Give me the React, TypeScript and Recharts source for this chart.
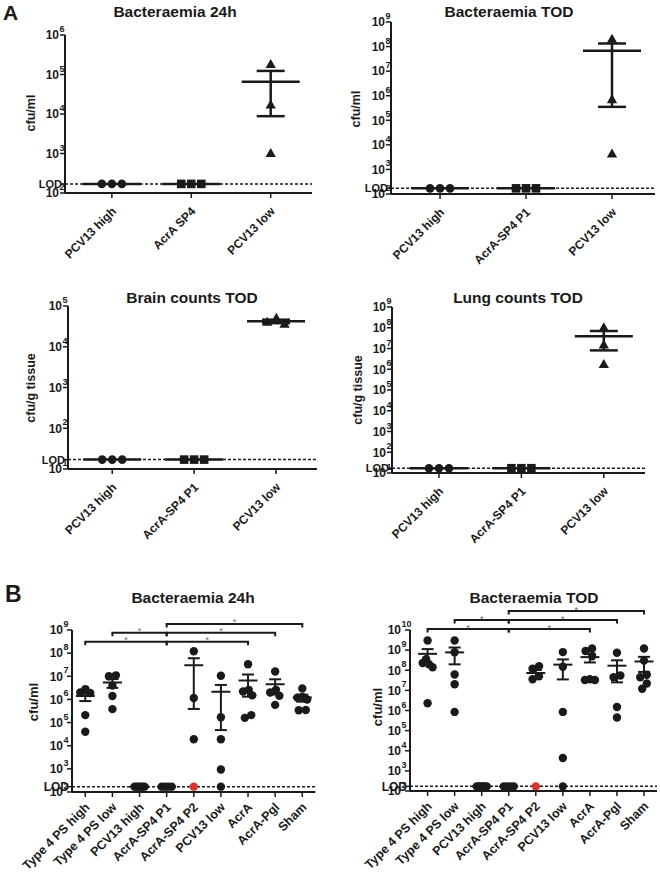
import React from 'react';
import { ComposedChart, Scatter, XAxis, YAxis, ReferenceLine, ErrorBar } from 'recharts';

// ---------- data ----------
const LOD_BLOOD = 170;
const LOD_TISSUE = 17;
const L = LOD_BLOOD;
const T = LOD_TISSUE;

const a1Title = 'Bacteraemia 24h';
const a1Groups = ['PCV13 high', 'AcrA SP4', 'PCV13 low'];
const a1Values = [[L, L, L], [L, L, L], [1.8e5, 1.7e4, 1.0e3]];
const a1Ticks = [1e2, 1e3, 1e4, 1e5, 1e6];

const a2Title = 'Bacteraemia TOD';
const a2Groups = ['PCV13 high', 'AcrA-SP4 P1', 'PCV13 low'];
const a2Values = [[L, L, L], [L, L, L], [2.0e8, 7.0e5, 4.3e3]];
const a2Ticks = [1e2, 1e3, 1e4, 1e5, 1e6, 1e7, 1e8, 1e9];

const a3Title = 'Brain counts TOD';
const a3Groups = ['PCV13 high', 'AcrA-SP4 P1', 'PCV13 low'];
const a3Values = [[T, T, T], [T, T, T], [5.0e4, 3.6e4, 4.0e4]];
const a3Ticks = [1e1, 1e2, 1e3, 1e4, 1e5];

const a4Title = 'Lung counts TOD';
const a4Groups = ['PCV13 high', 'AcrA-SP4 P1', 'PCV13 low'];
const a4Values = [[T, T, T], [T, T, T], [1.0e8, 1.5e7, 1.7e6]];
const a4Ticks = [1e1, 1e2, 1e3, 1e4, 1e5, 1e6, 1e7, 1e8, 1e9];

const bGroups = ['Type 4 PS high', 'Type 4 PS low', 'PCV13 high', 'AcrA-SP4 P1', 'AcrA-SP4 P2', 'PCV13 low', 'AcrA', 'AcrA-Pgl', 'Sham'];

const b1Title = 'Bacteraemia 24h';
const b1Values = [
  [2.8e6, 2.0e6, 1.9e6, 2.1e5, 4.0e4],
  [1.1e7, 1.0e7, 4.0e6, 1.4e6, 3.8e5],
  [L, L, L, L, L, L],
  [L, L, L, L],
  [1.2e8, 1.15e6, 1.9e4, L],
  [1.05e7, 1.7e5, 1.9e4, 9.4e2, L],
  [3.3e7, 2.6e6, 2.2e6, 1.5e6, 2.1e5, 1.6e5],
  [1.6e7, 2.6e6, 2.0e6, 1.45e6, 5.8e5],
  [3.0e6, 1.3e6, 1.2e6, 1.0e6, 3.5e5, 3.4e5],
];
const b1Ticks = [1e2, 1e3, 1e4, 1e5, 1e6, 1e7, 1e8, 1e9];
const b1Highlighted = [{ group: 4, index: 3 }];

const b2Title = 'Bacteraemia TOD';
const b2Values = [
  [3.0e9, 3.5e8, 2.3e8, 2.0e8, 1.4e8, 2.3e6],
  [3.0e9, 7.8e8, 6.2e7, 2.0e7, 8.5e5],
  [L, L, L, L, L, L],
  [L, L, L, L],
  [1.6e8, 1.2e8, 5.0e7, 3.6e7, L],
  [8.0e8, 1.5e8, 8.5e5, 4.4e3, L],
  [1.2e9, 9.0e8, 5.0e8, 3.6e7, 3.3e7, 3.3e7],
  [7.4e8, 5.5e7, 4.5e7, 1.5e6, 4.5e5],
  [1.2e9, 3.0e8, 6.0e7, 4.5e7, 2.2e7, 1.2e7],
];
const b2Ticks = [1e2, 1e3, 1e4, 1e5, 1e6, 1e7, 1e8, 1e9, 1e10];
const b2Highlighted = [{ group: 4, index: 4 }];

const bComparisons = [
  { from: 0, to: 3, level: 0, label: '*' },
  { from: 3, to: 6, level: 0, label: '*' },
  { from: 1, to: 3, level: 1, label: '*' },
  { from: 3, to: 7, level: 1, label: '*' },
  { from: 3, to: 8, level: 2, label: '*' },
];

// ---------- styles / layout ----------
const FONT = '"Liberation Sans", Arial, Helvetica, sans-serif';
const INK = '#1a1a1a';
const RED = '#d8342c';

const styleA = {
  r: 4.3, D: 10, maxHalf: 10, meanHalf: 29, capHalf: 14, lineW: 2.5, axisW: 2,
  tickFont: 12, supFont: 9, xFont: 12, labelGap: 6, lodFont: 11, xDx: 5, xDy: 14, yAxisWidth: 60,
};
const styleB = {
  r: 4.2, D: 7, maxHalf: 5, meanHalf: 9.5, capHalf: 6, lineW: 2, axisW: 2,
  tickFont: 12, supFont: 9, xFont: 12.5, labelGap: 9, lodFont: 12, xDx: 5, xDy: 11, yAxisWidth: 75,
};

const panels = [
  { key: 'a1', title: a1Title, groups: a1Groups, values: a1Values, ticks: a1Ticks, lod: LOD_BLOOD,
    markers: ['circle', 'square', 'triangle'], highlighted: [], comparisons: [],
    x0: 65, x1: 312, yTop: 35, yBot: 193, xMin: -0.59, xMax: 2.52, yMin: 1e2, yMax: 1e6,
    titleX: 175, titleY: 16.5, yLabel: 'cfu/ml', yLabelX: 30, yLabelY: 113, yLabelFont: 12.5, style: styleA },
  { key: 'a2', title: a2Title, groups: a2Groups, values: a2Values, ticks: a2Ticks, lod: LOD_BLOOD,
    markers: ['circle', 'square', 'triangle'], highlighted: [], comparisons: [],
    x0: 391, x1: 655, yTop: 22, yBot: 194, xMin: -0.57, xMax: 2.5, yMin: 1e2, yMax: 1e9,
    titleX: 509, titleY: 16.5, yLabel: 'cfu/ml', yLabelX: 355, yLabelY: 109, yLabelFont: 12.5, style: styleA },
  { key: 'a3', title: a3Title, groups: a3Groups, values: a3Values, ticks: a3Ticks, lod: LOD_TISSUE,
    markers: ['circle', 'square', 'triangle'], highlighted: [], comparisons: [],
    x0: 68, x1: 317, yTop: 306, yBot: 469, xMin: -0.54, xMax: 2.5, yMin: 1e1, yMax: 1e5,
    titleX: 192, titleY: 303, yLabel: 'cfu/g tissue', yLabelX: 30, yLabelY: 388, yLabelFont: 12.5, style: styleA },
  { key: 'a4', title: a4Title, groups: a4Groups, values: a4Values, ticks: a4Ticks, lod: LOD_TISSUE,
    markers: ['circle', 'square', 'triangle'], highlighted: [], comparisons: [],
    x0: 392, x1: 645, yTop: 307, yBot: 473, xMin: -0.57, xMax: 2.5, yMin: 1e1, yMax: 1e9,
    titleX: 518, titleY: 303, yLabel: 'cfu/g tissue', yLabelX: 357, yLabelY: 390, yLabelFont: 12.5, style: styleA },
  { key: 'b1', title: b1Title, groups: bGroups, values: b1Values, ticks: b1Ticks, lod: LOD_BLOOD,
    markers: bGroups.map(() => 'circle'), highlighted: b1Highlighted, comparisons: bComparisons,
    bracketBasePx: 11.7, bracketStepPx: 8.85,
    x0: 71.7, x1: 315, yTop: 630, yBot: 792, xMin: -0.49, xMax: 8.48, yMin: 1e2, yMax: 1e9,
    titleX: 193, titleY: 603, yLabel: 'cfu/ml', yLabelX: 33, yLabelY: 702, yLabelFont: 13, style: styleB },
  { key: 'b2', title: b2Title, groups: bGroups, values: b2Values, ticks: b2Ticks, lod: LOD_BLOOD,
    markers: bGroups.map(() => 'circle'), highlighted: b2Highlighted, comparisons: bComparisons,
    bracketBasePx: -1, bracketStepPx: 9,
    x0: 410, x1: 657, yTop: 630, yBot: 791, xMin: -0.65, xMax: 8.48, yMin: 1e2, yMax: 1e10,
    titleX: 534, titleY: 603, yLabel: 'cfu/ml', yLabelX: 377, yLabelY: 707, yLabelFont: 13, style: styleB },
];

// ---------- helpers ----------
function mean(a: number[]) {
  return a.reduce((s, v) => s + v, 0) / a.length;
}
function sem(a: number[]) {
  const m = mean(a);
  const v = a.reduce((s, x) => s + (x - m) * (x - m), 0) / (a.length - 1);
  return Math.sqrt(v) / Math.sqrt(a.length);
}

function swarm(values: number[], pxPerDec: number, D: number, maxHalf: number) {
  const n = values.length;
  const ys = values.map((v) => -Math.log10(v) * pxPerDec);
  const order = ys.map((_, i) => i).sort((a, b) => ys[a] - ys[b] || a - b);
  const off: number[] = new Array(n).fill(0);
  const placed: number[] = [];
  for (const i of order) {
    const y = ys[i];
    const cands = [0];
    for (const j of placed) {
      const dy = Math.abs(ys[j] - y);
      if (dy < D) {
        const dx = Math.sqrt(D * D - dy * dy);
        cands.push(off[j] - dx, off[j] + dx);
      }
    }
    const ok = (c: number) => placed.every((j) => (off[j] - c) ** 2 + (ys[j] - y) ** 2 >= D * D - 1e-6);
    const valid = cands.filter(ok).sort((a, b) => Math.abs(a) - Math.abs(b) || a - b);
    off[i] = valid.length ? valid[0] : Math.max(0, ...placed.map((j) => Math.abs(off[j]))) + D;
    placed.push(i);
  }
  const clusters: number[][] = [];
  let cur = [order[0]];
  for (let k = 1; k < n; k++) {
    const i = order[k];
    const prev = order[k - 1];
    if (ys[i] - ys[prev] < D) cur.push(i);
    else {
      clusters.push(cur);
      cur = [i];
    }
  }
  clusters.push(cur);
  for (const c of clusters) {
    const m = c.reduce((s, i) => s + off[i], 0) / c.length;
    c.forEach((i) => (off[i] -= m));
    const mx = Math.max(...c.map((i) => Math.abs(off[i])));
    if (mx > maxHalf) c.forEach((i) => (off[i] *= maxHalf / mx));
  }
  return off;
}

function buildPoints(p: any) {
  const st = p.style;
  const pxPerDec = (p.yBot - p.yTop) / (Math.log10(p.yMax) - Math.log10(p.yMin));
  const pxPerCat = (p.x1 - p.x0) / (p.xMax - p.xMin);
  const pts: any[] = [];
  p.values.forEach((vals: number[], g: number) => {
    const offs = swarm(vals, pxPerDec, st.D, st.maxHalf);
    vals.forEach((v, i) => {
      pts.push({
        x: g + offs[i] / pxPerCat,
        y: v,
        marker: p.markers[g],
        hl: p.highlighted.some((h: any) => h.group === g && h.index === i),
      });
    });
  });
  return pts;
}

function renderMarker(props: any, r: number) {
  const { cx, cy, payload } = props;
  if (cx == null || cy == null) return <g />;
  const fill = payload.hl ? RED : INK;
  if (payload.marker === 'square') {
    return <rect x={cx - r} y={cy - r} width={2 * r} height={2 * r} fill={fill} />;
  }
  if (payload.marker === 'triangle') {
    const h = r * 2.1;
    const w = r * 2.4;
    return (
      <path
        d={`M${cx},${cy - h * 0.6} L${cx + w / 2},${cy + h * 0.4} L${cx - w / 2},${cy + h * 0.4} Z`}
        fill={fill}
      />
    );
  }
  return <circle cx={cx} cy={cy} r={r} fill={fill} />;
}

function PanelChart({ p }: { p: any }) {
  const st = p.style;
  const YW = st.yAxisWidth;
  const MT = 40;
  const MR = 10;
  const XH = 85;
  const width = YW + (p.x1 - p.x0) + MR;
  const height = MT + (p.yBot - p.yTop) + XH;
  const pts = buildPoints(p);
  const means = p.values.map((vals: number[], g: number) => ({ x: g, y: mean(vals), err: sem(vals) }));
  const cats = p.groups.map((_: string, i: number) => i);
  const yTicks = [p.lod, ...p.ticks];
  const pxPerDec = (p.yBot - p.yTop) / (Math.log10(p.yMax) - Math.log10(p.yMin));

  const XTick = (props: any) => {
    const { x, y, payload } = props;
    const ax = x + st.xDx;
    const ay = y + st.xDy;
    return (
      <text
        x={ax}
        y={ay}
        textAnchor="end"
        fontSize={st.xFont}
        fontWeight="bold"
        fontFamily={FONT}
        fill={INK}
        transform={`rotate(-45 ${ax} ${ay})`}
      >
        {p.groups[payload.value]}
      </text>
    );
  };

  const YTick = (props: any) => {
    const { x, y, payload } = props;
    const v = payload.value;
    const axisX = x + 5;
    if (Math.abs(v - p.lod) < 1e-9) {
      return (
        <text x={axisX - 3} y={y + st.lodFont * 0.36} textAnchor="end" fontSize={st.lodFont} fontWeight="bold" fontFamily={FONT} fill={INK}>
          LOD
        </text>
      );
    }
    const exp = Math.round(Math.log10(v));
    const ex = axisX - st.labelGap;
    return (
      <g>
        <text x={ex} y={y + st.tickFont * 0.36} textAnchor="end" fontSize={st.tickFont} fontWeight="bold" fontFamily={FONT} fill={INK}>
          10
        </text>
        <text x={ex + 0.5} y={y - 3} textAnchor="start" fontSize={st.supFont} fontWeight="bold" fontFamily={FONT} fill={INK}>
          {exp}
        </text>
      </g>
    );
  };

  const brackets = (p.comparisons || []).map((c: any, k: number) => {
    const offPx = p.bracketBasePx - c.level * p.bracketStepPx;
    const yv = Math.pow(10, Math.log10(p.yMax) - offPx / pxPerDec);
    return (
      <ReferenceLine
        key={`br${k}`}
        segment={[{ x: c.from, y: yv }, { x: c.to, y: yv }]}
        ifOverflow="visible"
        stroke={INK}
        strokeWidth={2}
        shape={(lp: any) => {
          const { x1, y1, x2 } = lp;
          if (x1 == null || y1 == null) return <g />;
          return (
            <g>
              <path d={`M${x1},${y1 + 3.5} L${x1},${y1} L${x2},${y1} L${x2},${y1 + 3.5}`} fill="none" stroke={INK} strokeWidth={2} />
              <text x={(x1 + x2) / 2} y={y1 + 1.5} textAnchor="middle" fontSize={9} fontFamily={FONT} fill="#666">
                {c.label}
              </text>
            </g>
          );
        }}
      />
    );
  });

  return (
    <div style={{ position: 'absolute', left: p.x0 - YW, top: p.yTop - MT }}>
      <ComposedChart width={width} height={height} margin={{ top: MT, right: MR, bottom: 0, left: 0 }}>
        <XAxis
          type="number"
          dataKey="x"
          domain={[p.xMin, p.xMax]}
          ticks={cats}
          interval={0}
          allowDataOverflow
          height={XH}
          tick={XTick}
          tickSize={5}
          tickMargin={0}
          tickLine={{ stroke: INK, strokeWidth: 1.5 }}
          axisLine={{ stroke: INK, strokeWidth: st.axisW }}
        />
        <YAxis
          type="number"
          dataKey="y"
          scale="log"
          domain={[p.yMin, p.yMax]}
          ticks={yTicks}
          interval={0}
          allowDataOverflow
          width={YW}
          tick={YTick}
          tickSize={5}
          tickMargin={0}
          tickLine={{ stroke: INK, strokeWidth: 1.5 }}
          axisLine={{ stroke: INK, strokeWidth: st.axisW }}
        />
        <ReferenceLine y={p.lod} stroke={INK} strokeWidth={1.5} strokeDasharray="3 2" ifOverflow="visible" />
        <Scatter data={pts} isAnimationActive={false} shape={(props: any) => renderMarker(props, st.r)} />
        <Scatter
          data={means}
          isAnimationActive={false}
          shape={(props: any) => {
            const { cx, cy } = props;
            if (cx == null || cy == null) return <g />;
            return <line x1={cx - st.meanHalf} x2={cx + st.meanHalf} y1={cy} y2={cy} stroke={INK} strokeWidth={st.lineW} />;
          }}
        >
          <ErrorBar dataKey="err" direction="y" width={st.capHalf} stroke={INK} strokeWidth={st.lineW} isAnimationActive={false} />
        </Scatter>
        {brackets}
      </ComposedChart>
    </div>
  );
}

export default function App() {
  return (
    <div style={{ position: 'absolute', left: 0, top: 0, width: 660, height: 873, overflow: 'hidden', background: '#fff' }}>
      {panels.map((p) => (
        <PanelChart key={p.key} p={p} />
      ))}
      <svg width={660} height={873} style={{ position: 'absolute', left: 0, top: 0, pointerEvents: 'none' }}>
        <text x={3} y={20} fontSize={21} fontWeight="bold" fontFamily={FONT} fill={INK}>A</text>
        <text x={5} y={602} fontSize={23} fontWeight="bold" fontFamily={FONT} fill={INK}>B</text>
        {panels.map((p) => (
          <g key={`t${p.key}`}>
            <text x={p.titleX} y={p.titleY} textAnchor="middle" fontSize={15.5} fontWeight="bold" fontFamily={FONT} fill={INK}>
              {p.title}
            </text>
            <text
              transform={`translate(${p.yLabelX} ${p.yLabelY}) rotate(-90)`}
              textAnchor="middle"
              dy="0.36em"
              fontSize={p.yLabelFont}
              fontWeight="bold"
              fontFamily={FONT}
              fill={INK}
            >
              {p.yLabel}
            </text>
          </g>
        ))}
      </svg>
    </div>
  );
}
